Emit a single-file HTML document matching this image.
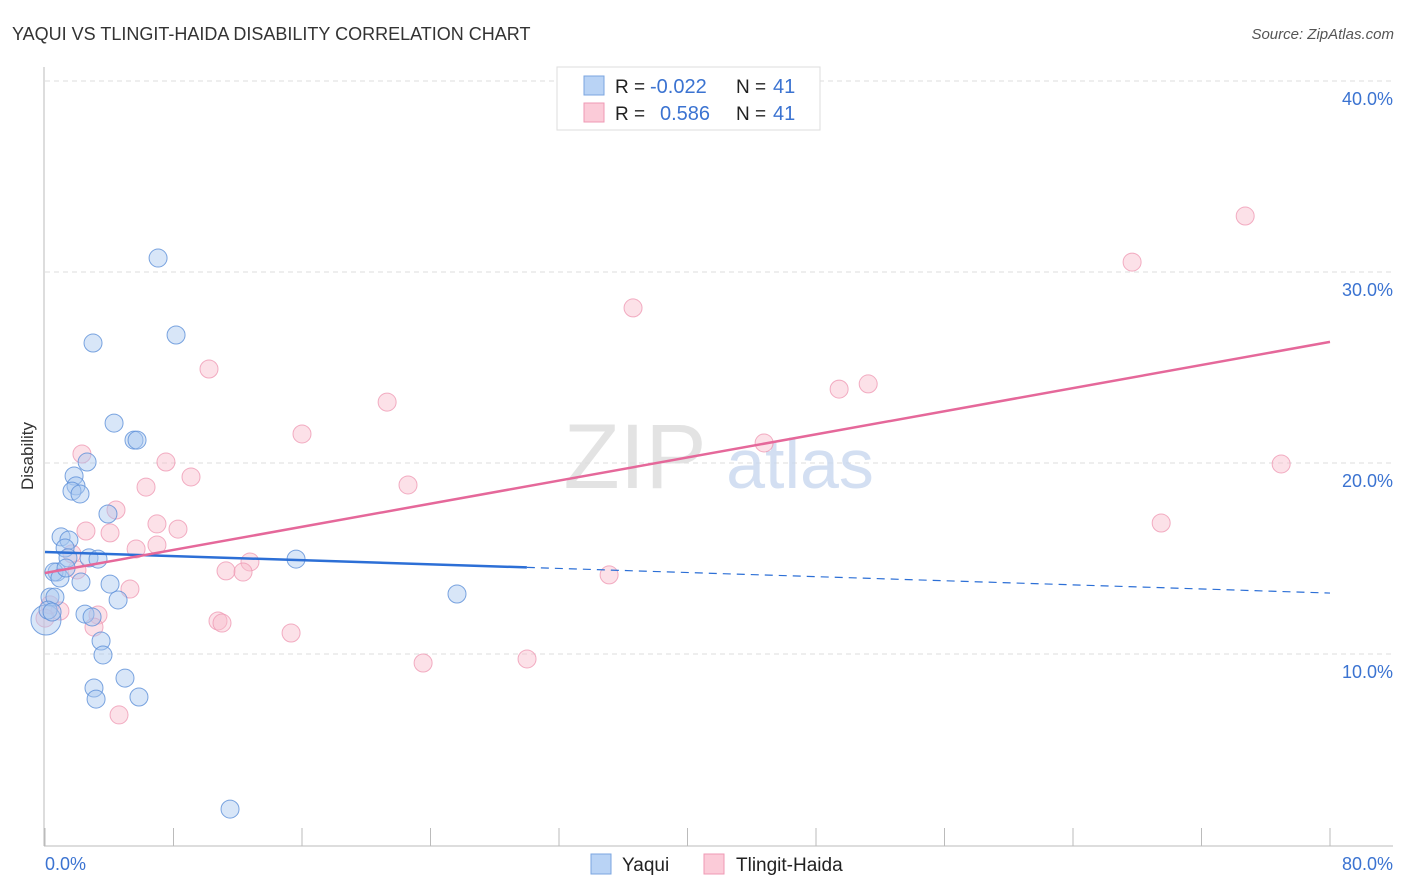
<!DOCTYPE html>
<html><head><meta charset="utf-8"><style>
body{margin:0;background:#fff;font-family:"Liberation Sans",sans-serif;}
#wrap{position:relative;width:1406px;height:892px;overflow:hidden;}
svg text{font-family:"Liberation Sans",sans-serif;}
</style></head><body>
<div id="wrap">
<svg id="chart" width="1406" height="892">
<text x="12" y="40" font-size="18" fill="#333">YAQUI VS TLINGIT-HAIDA DISABILITY CORRELATION CHART</text>
<text x="1394" y="39" font-size="15" fill="#555" font-style="italic" text-anchor="end">Source: ZipAtlas.com</text>
<text x="33" y="456" font-size="17" fill="#333" text-anchor="middle" transform="rotate(-90 33 456)">Disability</text>
<g id="grid"></g>
<g><text x="635" y="488" font-size="92" fill="#ddd" font-family="Liberation Serif" text-anchor="middle" opacity="0.8">ZIP</text><text x="800" y="488" font-size="70" fill="#c9d8ef" text-anchor="middle" opacity="0.8">atlas</text></g>
<line x1="44" y1="67" x2="44" y2="846" stroke="#bbb"/>
<line x1="44" y1="846" x2="1393" y2="846" stroke="#bbb"/>
<g id="xticks"></g>
<g id="pts"></g>
<g id="trends"></g>
<text x="45" y="870" font-size="18" fill="#3b73d1">0.0%</text>
<text x="1393" y="870" font-size="18" fill="#3b73d1" text-anchor="end">80.0%</text>
<g>
<rect x="557" y="67" width="263" height="63" fill="#fff" stroke="#ddd"/>
<rect x="584" y="76" width="20" height="19" fill="#b9d3f5" stroke="#7ba6e0"/>
<rect x="584" y="103" width="20" height="19" fill="#fbcbd8" stroke="#ef9ab4"/>
<text x="615" y="93" font-size="19" fill="#222">R = </text><text x="650" y="93" font-size="20" fill="#3b73d1">-0.022</text>
<text x="736" y="93" font-size="19" fill="#222">N = </text><text x="773" y="93" font-size="20" fill="#3b73d1">41</text>
<text x="615" y="120" font-size="19" fill="#222">R = </text><text x="660" y="120" font-size="20" fill="#3b73d1">0.586</text>
<text x="736" y="120" font-size="19" fill="#222">N = </text><text x="773" y="120" font-size="20" fill="#3b73d1">41</text>
</g>
<g>
<rect x="591" y="854" width="20" height="20" fill="#b9d3f5" stroke="#7ba6e0"/>
<text x="622" y="871" font-size="19" fill="#222">Yaqui</text>
<rect x="704" y="854" width="20" height="20" fill="#fbcbd8" stroke="#ef9ab4"/>
<text x="736" y="871" font-size="19" fill="#222">Tlingit-Haida</text>
</g>
</svg>
</div>
<script>
const yTicks=[10,20,30,40];
const yTickLabels=["10.0%","20.0%","30.0%","40.0%"];
const xTickVals=[0,8,16,24,32,40,48,56,64,72,80];
const yaquiX=[7.04,8.16,2.99,4.30,5.54,5.73,2.62,1.81,1.93,1.68,2.18,3.92,1.00,1.49,1.25,1.43,2.74,3.30,15.63,0.75,0.56,0.93,2.24,4.05,0.31,0.62,4.55,25.65,2.49,2.93,3.49,3.61,4.98,3.05,3.18,5.85,11.52,0.06,0.19,0.44,1.31];
const yaquiY=[30.73,26.70,26.28,22.09,21.20,21.20,20.05,19.32,18.80,18.53,18.38,17.33,16.13,15.97,15.55,15.03,15.03,14.97,14.97,14.29,14.29,13.98,13.77,13.66,12.98,12.98,12.83,13.14,12.09,11.94,10.68,9.95,8.74,8.22,7.64,7.75,1.88,11.78,12.30,12.20,14.50];
const tlingitX=[74.72,67.68,36.61,10.21,21.30,51.25,49.44,16.00,44.77,2.30,7.53,9.09,76.96,6.29,22.60,4.42,2.55,4.05,6.97,8.28,69.49,6.97,5.67,1.68,12.76,11.27,12.33,1.99,35.12,5.29,3.30,3.05,10.77,11.02,15.32,23.54,30.01,4.61,0.31,0.93,0.0];
const tlingitY=[32.93,30.52,28.12,24.92,23.19,24.14,23.87,21.52,21.05,20.47,20.05,19.27,19.95,18.74,18.85,17.54,16.44,16.34,16.81,16.54,16.86,15.71,15.50,15.24,14.82,14.35,14.29,14.40,14.14,13.40,12.04,11.41,11.73,11.62,11.10,9.53,9.74,6.81,12.57,12.25,11.88];
const yaquiTrend=[15.34,13.19];
const tlingitTrend=[14.24,26.34];
const yaquiSolidEnd=30;
const NS="http://www.w3.org/2000/svg";
const sx=v=>45+v*1285/80;
const sy=v=>845-v*19.1;
function mk(tag,attrs,parent){const e=document.createElementNS(NS,tag);for(const k in attrs)e.setAttribute(k,attrs[k]);parent.appendChild(e);return e;}
const grid=document.getElementById('grid');
yTicks.forEach((t,i)=>{
 const l=mk('line',{x1:45,x2:1393,y1:sy(t),y2:sy(t),stroke:'#ddd','stroke-dasharray':'5,4'},grid);
 
 
 const tx=mk('text',{x:1393,y:sy(t)+24,'font-size':18,fill:'#3b73d1','text-anchor':'end'},grid);
 tx.textContent=yTickLabels[i];
 
 
});
const xt=document.getElementById('xticks');
xTickVals.forEach(v=>{
 const l=mk('line',{x1:sx(v),x2:sx(v),y1:828,y2:846,stroke:'#bbb'},xt);
 
 
});
const pts=document.getElementById('pts');
function drawSeries(xs,ys,fill,stroke,name){
 xs.forEach((x,i)=>{
  const r=(name==='yaqui-point'&&i===37)?15:9;
  const c=mk('circle',{cx:sx(x),cy:sy(ys[i]),r:r,fill:fill,'fill-opacity':0.45,stroke:stroke,'stroke-opacity':0.8,'stroke-width':1},pts);
  
  
 });
}
drawSeries(tlingitX,tlingitY,'#f8bccd','#ef9ab4','tlingit-haida-point');
drawSeries(yaquiX,yaquiY,'#a9c8f0','#5b8fd8','yaqui-point');
const tr=document.getElementById('trends');
const yAt=s=>s[0]+(s[1]-s[0])*yaquiSolidEnd/80;
const b1=mk('line',{x1:sx(0),y1:sy(yaquiTrend[0]),x2:sx(yaquiSolidEnd),y2:sy(yAt(yaquiTrend)),stroke:'#2c6fd6','stroke-width':2.5},tr);


const b2=mk('line',{x1:sx(yaquiSolidEnd),y1:sy(yAt(yaquiTrend)),x2:sx(80),y2:sy(yaquiTrend[1]),stroke:'#2c6fd6','stroke-width':1.2,'stroke-dasharray':'8,6'},tr);


const p1=mk('line',{x1:sx(0),y1:sy(tlingitTrend[0]),x2:sx(80),y2:sy(tlingitTrend[1]),stroke:'#e5689a','stroke-width':2.5},tr);


</script>
</body></html>
